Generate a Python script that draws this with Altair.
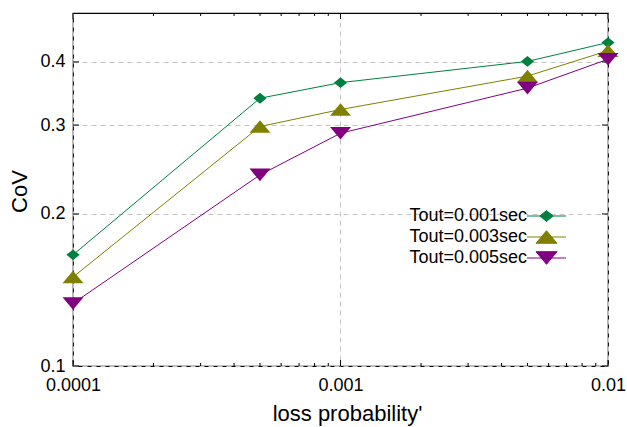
import altair as alt
import pandas as pd

# ---- data ----
loss_prob = [0.0001, 0.0005, 0.001, 0.005, 0.01]
series_names = ["Tout=0.001sec", "Tout=0.003sec", "Tout=0.005sec"]
cov_tout_001 = [0.166, 0.339, 0.364, 0.401, 0.437]
cov_tout_003 = [0.150, 0.298, 0.322, 0.375, 0.421]
cov_tout_005 = [0.133, 0.239, 0.289, 0.355, 0.405]
series_colors = ["#00803f", "#808000", "#800080"]

x_major = [0.0001, 0.001, 0.01]
x_minor = [0.0002, 0.0003, 0.0004, 0.0005, 0.0006, 0.0007, 0.0008, 0.0009,
           0.002, 0.003, 0.004, 0.005, 0.006, 0.007, 0.008, 0.009]
y_major = [0.1, 0.2, 0.3, 0.4]

rows = []
for name, vals in zip(series_names, [cov_tout_001, cov_tout_003, cov_tout_005]):
    for xv, yv in zip(loss_prob, vals):
        rows.append({"x": xv, "cov": yv, "series": name})
df = pd.DataFrame(rows)

# marker glyphs (custom unit paths) and legend glyphs (line + marker, drawn to the
# right of the symbol origin so the sample sits after the right-aligned label)
marker_paths = [
    "M0,-0.9L1.1,0L0,0.9L-1.1,0Z",
    "M0,-1.05L1.75,1.05L-1.75,1.05Z",
    "M0,1.05L1.75,-1.05L-1.75,-1.05Z",
]
legend_paths = [
    "M1.5,0L8,0M4.75,-0.9L5.85,0L4.75,0.9L3.65,0Z",
    "M1.5,0L8,0M4.75,-1.05L6.5,1.05L3,1.05Z",
    "M1.5,0L8,0M4.75,1.05L6.5,-1.05L3,-1.05Z",
]

W, H = 535, 353
FONT = "Liberation Sans"

xscale = alt.Scale(type="log", domain=[0.0001, 0.01], nice=False)
yscale = alt.Scale(type="log", domain=[0.1, 0.5], nice=False)

base = alt.Chart(df)

x_enc = alt.X("x:Q", scale=xscale,
              axis=alt.Axis(values=x_major, format="~g", title="loss probability'",
                            grid=True, gridDash=[5, 4], gridColor="#c4c4c4",
                            ticks=False, domain=False, labelFlush=False,
                            labelPadding=24, labelBaseline="alphabetic",
                            labelFontSize=18, labelFont=FONT, labelColor="black",
                            titleFontSize=22, titleFont=FONT, titleFontWeight="normal",
                            titleColor="black", titleBaseline="alphabetic",
                            titleX=274, titleY=54))
y_enc = alt.Y("cov:Q", scale=yscale,
              axis=alt.Axis(values=y_major, format="~g", title="CoV",
                            grid=True, gridDash=[5, 4], gridColor="#c4c4c4",
                            ticks=False, domain=False, labelPadding=8,
                            labelFontSize=18, labelFont=FONT, labelColor="black",
                            labelBaseline="middle",
                            titleFontSize=22, titleFont=FONT, titleFontWeight="normal",
                            titleColor="black", titleBaseline="alphabetic",
                            titleAlign="center", titleAngle=270,
                            titleX=-47, titleY=178))

# data-driven domain (sorted names) for the drawn series
color_enc = alt.Color("series:N", scale=alt.Scale(range=series_colors), legend=None)

lines = base.mark_line(strokeWidth=1).encode(x=x_enc, y=y_enc, color=color_enc)

# one marker layer per series, each with its own glyph
point_layers = []
for name, path in zip(series_names, marker_paths):
    point_layers.append(
        base.transform_filter(alt.datum.series == name)
        .mark_point(filled=True, size=144, opacity=1, shape=path)
        .encode(x=alt.X("x:Q", scale=xscale), y=alt.Y("cov:Q", scale=yscale),
                color=color_enc)
    )

leg = alt.Legend(orient="none", legendX=381, legendY=194, title=None,
                 labelAlign="right", labelOffset=0, symbolOffset=55,
                 labelBaseline="middle",
                 labelFontSize=18, labelFont=FONT, labelColor="black",
                 symbolSize=144, symbolStrokeWidth=1, symbolOpacity=1,
                 rowPadding=3, padding=0)

legend_layer = base.transform_filter("datum.x < 0").mark_point(
    filled=True, size=144, strokeWidth=1, opacity=1).encode(
    x=alt.X("x:Q", scale=xscale),
    y=alt.Y("cov:Q", scale=yscale),
    fill=alt.Fill("series:N", scale=alt.Scale(domain=series_names, range=series_colors),
                  legend=leg),
    stroke=alt.Stroke("series:N", scale=alt.Scale(domain=series_names, range=series_colors),
                      legend=leg),
    shape=alt.Shape("series:N", scale=alt.Scale(domain=series_names, range=legend_paths),
                    legend=leg),
)

# inward tick marks (gnuplot style), mirrored on all four sides
xmaj_df = pd.DataFrame({"t": x_major})
xmin_df = pd.DataFrame({"t": x_minor})
ymaj_df = pd.DataFrame({"t": y_major})


def xticks(data, length):
    bottom = alt.Chart(data).mark_rule(color="black", strokeWidth=1, y2Offset=-length).encode(
        x=alt.X("t:Q", scale=xscale), y=alt.YDatum(0.1), y2=alt.Y2Datum(0.1))
    top = alt.Chart(data).mark_rule(color="black", strokeWidth=1, y2Offset=length).encode(
        x=alt.X("t:Q", scale=xscale), y=alt.YDatum(0.5), y2=alt.Y2Datum(0.5))
    return bottom + top


def yticks(data, length):
    left = alt.Chart(data).mark_rule(color="black", strokeWidth=1, x2Offset=length).encode(
        y=alt.Y("t:Q", scale=yscale), x=alt.XDatum(0.0001), x2=alt.X2Datum(0.0001))
    right = alt.Chart(data).mark_rule(color="black", strokeWidth=1, x2Offset=-length).encode(
        y=alt.Y("t:Q", scale=yscale), x=alt.XDatum(0.01), x2=alt.X2Datum(0.01))
    return left + right


chart = alt.layer(
    lines, xticks(xmaj_df, 6), xticks(xmin_df, 3), yticks(ymaj_df, 6),
    *point_layers, legend_layer,
).properties(
    width=W, height=H,
    autosize=alt.AutoSizeParams(type="none"),
    padding={"left": 73, "top": 13, "right": 19, "bottom": 61},
    background="white",
).configure_view(stroke="black", strokeWidth=1.2)

chart.save("out.html", embed_options={"renderer": "svg", "actions": False})
